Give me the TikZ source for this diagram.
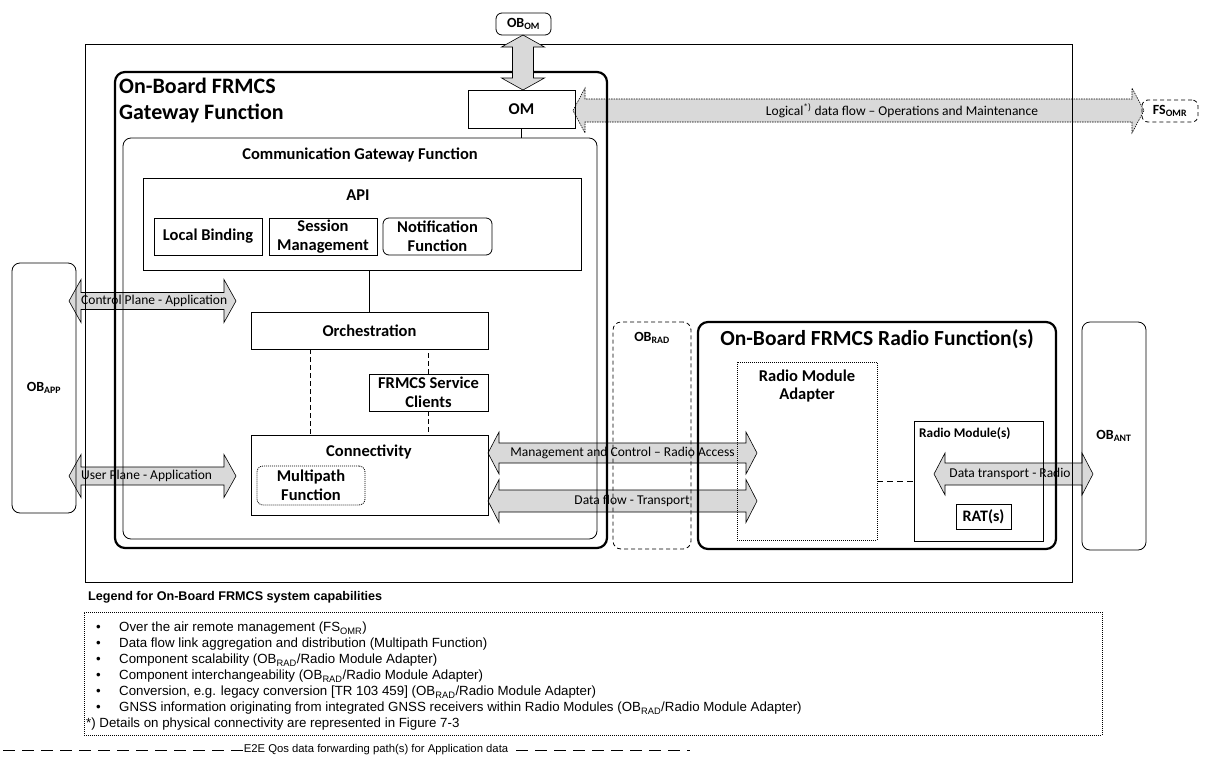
\documentclass[tikz,border=0pt]{standalone}
\usepackage{fontspec}
\setmainfont{Carlito}
\newfontfamily\arialf{Liberation Sans}
\definecolor{agray}{HTML}{D9D9D9}
\newcommand{\lblfont}{\fontsize{16.5}{18.5}\selectfont\bfseries}
\newcommand{\oblfont}{\fontsize{14}{16}\selectfont\bfseries}
\newcommand{\bigfont}{\fontsize{22}{26}\selectfont\bfseries}
\newcommand{\albfont}{\fontsize{13.5}{15}\selectfont}
% box from corners
\newcommand{\bx}[7]{\node[#2, minimum width={#5pt-#3pt}, minimum height={#6pt-#4pt}] (#1) at ({(#3+#5)/2},{(#4+#6)/2}) {#7};}
% horizontal double block arrow: x1 x2 yc shafthalf headhalf headlen style
\newcommand{\harr}[7]{\path[#7] (#1,#3) -- ({#1+#6},{#3-#5}) -- ({#1+#6},{#3-#4}) -- ({#2-#6},{#3-#4}) -- ({#2-#6},{#3-#5}) -- (#2,#3) -- ({#2-#6},{#3+#5}) -- ({#2-#6},{#3+#4}) -- ({#1+#6},{#3+#4}) -- ({#1+#6},{#3+#5}) -- cycle;}
% vertical double block arrow: y1 y2 xc shafthalf headhalf headlen style
\newcommand{\varr}[7]{\path[#7] (#3,#1) -- ({#3+#5},{#1+#6}) -- ({#3+#4},{#1+#6}) -- ({#3+#4},{#2-#6}) -- ({#3+#5},{#2-#6}) -- (#3,#2) -- ({#3-#5},{#2-#6}) -- ({#3-#4},{#2-#6}) -- ({#3-#4},{#1+#6}) -- ({#3-#5},{#1+#6}) -- cycle;}
\tikzset{
  box/.style={draw, line width=0.8pt, inner sep=0pt, align=center, font=\lblfont},
  thickbox/.style={box, line width=2.2pt, rounded corners=10pt},
  lbl/.style={inner sep=0pt, align=center, font=\lblfont},
  albl/.style={inner sep=0pt, font=\albfont},
  arrowst/.style={draw, line width=0.6pt, fill=agray, line join=miter},
  link/.style={draw, line width=0.8pt},
  dotbox/.style={box, dash pattern=on 1pt off 1pt},
  dashbox/.style={box, dash pattern=on 4pt off 3pt},
}
\begin{document}
\begin{tikzpicture}[x=1pt,y=-1pt]
\useasboundingbox (0,0) rectangle (1208,769);
\fill[white] (0,0) rectangle (1208,769);

% ---- block arrows (below box outlines)
\harr{573}{1144}{110.5}{11.5}{22.5}{12}{arrowst, dash pattern=on 1.5pt off 1pt}
\node[albl] (lgl) at (902,110.5) {Logical\textsuperscript{*)} data flow – Operations and Maintenance};
\harr{69}{236}{301}{8.5}{21.5}{12}{arrowst}
\node[albl, anchor=west] (cpl) at (81,301) {Control Plane - Application};
\harr{69}{236}{476}{9}{21.5}{12}{arrowst}
\node[albl, anchor=west] (upl) at (81,476) {User Plane - Application};
\harr{488}{757}{453}{10}{21}{11}{arrowst}
\node[albl] (mgl) at (622.5,453) {Management and Control – Radio Access};
\harr{488}{757}{501}{11}{21.5}{11}{arrowst}
\node[albl] (dfl) at (632,501) {Data flow - Transport};
\harr{934}{1093}{474}{11}{21}{11}{arrowst}
\node[albl] (dtl) at (1010,474) {Data transport - Radio};

% ---- boxes
\bx{outer}{box}{85}{44}{1072}{582}{}
\bx{gw}{thickbox}{115}{72}{607}{548}{}
\node[inner sep=0pt, align=left, font=\bigfont, anchor=west] (gwtitle) at (119,101) {On-Board FRMCS\\Gateway Function};
\bx{OM}{box}{468}{90}{575}{128}{OM}
\bx{cgw}{box, rounded corners=8pt}{123}{138}{597}{539}{}
\node[lbl] (cgwtitle) at (360,155) {Communication Gateway Function};
\bx{api}{box}{143}{178}{581}{270}{}
\node[lbl] (apititle) at (358,195) {API};
\bx{lb}{box}{154}{218}{262}{255}{Local Binding}
\bx{sm}{box}{269}{218}{377}{255}{Session\\Management}
\bx{nf}{box, rounded corners=6pt}{383}{218}{492}{255}{Notification\\Function}
\bx{orch}{box}{251}{312}{488}{349}{Orchestration}
\bx{fsc}{box}{369}{374}{488}{411}{FRMCS Service\\Clients}
\bx{conn}{box}{251}{435}{488}{515}{}
\node[lbl] (conntitle) at (369,452) {Connectivity};
\bx{mp}{dotbox, rounded corners=6pt}{257}{466}{365}{505}{Multipath\\Function}
\bx{obapp}{box, rounded corners=8pt, font=\oblfont}{12}{263}{76}{513}{OB\textsubscript{APP}}
\bx{obrad}{dashbox, rounded corners=8pt}{613}{322}{691}{549}{}
\node[lbl, font=\oblfont] (obradl) at (652,338) {OB\textsubscript{RAD}};
\bx{rf}{thickbox}{698}{322}{1056}{549}{}
\node[inner sep=0pt, font=\fontsize{21.5}{24}\selectfont\bfseries] (rftitle) at (877,339) {On-Board FRMCS Radio Function(s)};
\bx{rma}{dotbox}{737}{362}{877}{540}{}
\node[lbl] (rmatitle) at (807,386) {Radio Module\\Adapter};
\bx{rm}{box}{914}{421}{1043}{541}{}
\node[lbl, font=\fontsize{13.3}{15}\selectfont\bfseries, anchor=west] (rmtitle) at (919,434) {Radio Module(s)};
\bx{rat}{box, font=\fontsize{16}{18}\selectfont\bfseries}{956}{504}{1011}{529}{RAT(s)}
\bx{obant}{box, rounded corners=8pt, font=\oblfont}{1082}{322}{1146}{550}{OB\textsubscript{ANT}}
\bx{fsomr}{dashbox, rounded corners=6pt, font=\oblfont}{1142}{100}{1198}{122}{FS\textsubscript{OMR}}

% ---- connectors
\draw[link] (OM.south) -- (OM.south |- cgw.north);
\draw[link] (orch.north) -- (orch.north |- api.south);
\draw[link, dash pattern=on 5pt off 3pt] ([xshift=-59.5pt]orch.south) -- ([xshift=-59.5pt]orch.south |- conn.north);
\draw[link, dash pattern=on 5pt off 3pt] (fsc.north) -- (fsc.north |- orch.south);
\draw[link, dash pattern=on 5pt off 3pt] (fsc.south) -- (fsc.south |- conn.north);
\draw[link, dash pattern=on 6pt off 4pt] (rma.east |- rm.west) -- (rm.west);

% ---- OB_OM with vertical arrow (on top)
\varr{35}{90}{523}{10.5}{21.5}{12}{arrowst}
\bx{obom}{box, rounded corners=6pt, font=\oblfont}{496}{13}{551}{35}{OB\textsubscript{OM}}

% ---- legend
\node[inner sep=0pt, anchor=west, font=\arialf\fontsize{12.6}{14}\selectfont\bfseries] (leghead) at (88,597) {Legend for On-Board FRMCS system capabilities};
\bx{legbox}{draw, line width=0.6pt, dash pattern=on 1pt off 1pt}{84}{612}{1102}{735}{}
\node[inner sep=0pt, anchor=north west, align=left, font=\arialf\fontsize{13.3}{16}\selectfont] (legtext) at (86,622) {%
\hspace*{10pt}\makebox[23pt][l]{•}Over the air remote management (FS\textsubscript{OMR})\\
\hspace*{10pt}\makebox[23pt][l]{•}Data flow link aggregation and distribution (Multipath Function)\\
\hspace*{10pt}\makebox[23pt][l]{•}Component scalability (OB\textsubscript{RAD}/Radio Module Adapter)\\
\hspace*{10pt}\makebox[23pt][l]{•}Component interchangeability (OB\textsubscript{RAD}/Radio Module Adapter)\\
\hspace*{10pt}\makebox[23pt][l]{•}Conversion, e.g. legacy conversion [TR 103 459] (OB\textsubscript{RAD}/Radio Module Adapter)\\
\hspace*{10pt}\makebox[23pt][l]{•}GNSS information originating from integrated GNSS receivers within Radio Modules (OB\textsubscript{RAD}/Radio Module Adapter)\\
*) Details on physical connectivity are represented in Figure 7-3};

% ---- E2E line
\coordinate (e2eL) at (3,750);
\coordinate (e2eR) at (690,750);
\draw[line width=0.5pt, dash pattern=on 12pt off 7pt] (e2eL) -- (e2eR);
\node[fill=white, inner sep=1pt, font=\arialf\fontsize{11.3}{13}\selectfont] (e2e) at (376,750) {E2E Qos data forwarding path(s) for Application data};
\end{tikzpicture}
\end{document}
